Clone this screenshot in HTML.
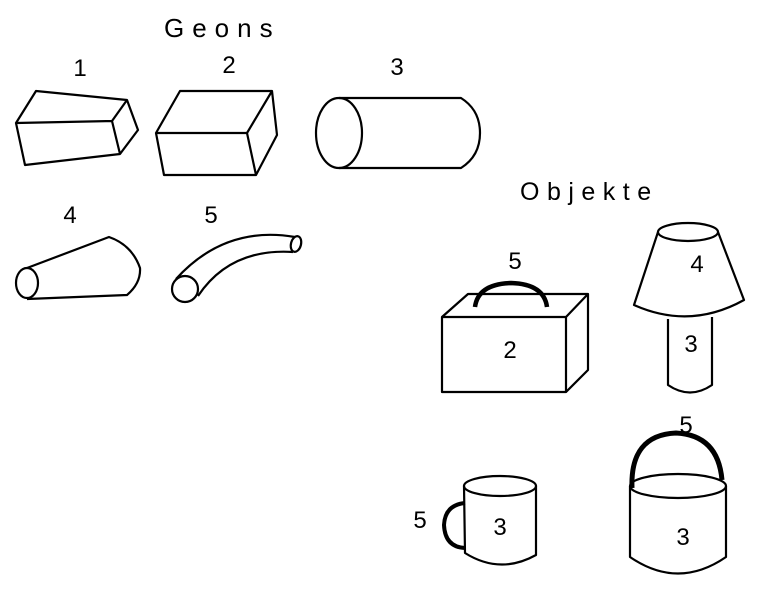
<!DOCTYPE html>
<html><head><style>
html,body{margin:0;padding:0;background:#fff}
svg{display:block}
text{font-family:"Liberation Sans",sans-serif;fill:#000}
</style></head><body>
<svg width="757" height="591" viewBox="0 0 757 591" xmlns="http://www.w3.org/2000/svg">
<g fill="none" stroke="#000" stroke-width="2.2" stroke-linejoin="round">
<!-- geon 1 -->
<path d="M36,91 L127,100 L138,130 L120,154 L25,165 L16,123 Z M16,123 L112,121 L120,154 M112,121 L127,100"/>
<!-- geon 2 -->
<path d="M180,91 L272,91 L277,135 L256,175 L164,175 L156,133 Z M156,133 L247,133 L256,175 M247,133 L272,91"/>
<!-- geon 3 -->
<ellipse cx="339" cy="133" rx="23" ry="35"/>
<path d="M339,98 L461,98 Q480,110 480,133 Q480,156 461,168 L339,168"/>
<!-- geon 4 -->
<ellipse cx="27" cy="283" rx="11" ry="15"/>
<path d="M27,268 L109,237 Q132,245 140,268 Q141,283 127,295 L27,299"/>
<!-- geon 5 -->
<circle cx="185" cy="289" r="13"/>
<path d="M176,279 Q225,225 295,237 M198,296 Q230,248 293,252"/>
<ellipse cx="296" cy="244" rx="5" ry="8" transform="rotate(15 296 244)"/>
<!-- suitcase -->
<path d="M442,317 L566,317 L566,392 L442,392 Z M442,317 L468,294 L588,294 L566,317 M588,294 L588,370 L566,392"/>
<path d="M475,307 Q478,284 511,283 Q544,284 547,307" stroke-width="4.5"/>
<!-- lamp -->
<ellipse cx="688" cy="232" rx="30" ry="9"/>
<path d="M658,232 L634,305 Q690,330 744,300 L718,232"/>
<path d="M668,319 L668,385 Q690,400 712,385 L712,317"/>
<!-- mug -->
<ellipse cx="500" cy="486" rx="36" ry="10"/>
<path d="M464,486 L465,553 Q500,575 536,555 L536,486"/>
<path d="M465,503 Q445,505 444,525 Q445,547 465,548" stroke-width="4"/>
<!-- bucket -->
<ellipse cx="678" cy="486" rx="48" ry="12"/>
<path d="M630,486 L630,557 Q678,590 726,557 L726,486"/>
<path d="M632,488 Q630,435 676,433 Q718,435 722,480" stroke-width="5"/>
</g>
<text x="164" y="37" font-size="26" letter-spacing="8">Geons</text>
<text x="520" y="200" font-size="25" letter-spacing="7.5">Objekte</text>
<g font-size="24" text-anchor="middle">
<text x="80" y="76">1</text>
<text x="229" y="73">2</text>
<text x="397" y="75">3</text>
<text x="70" y="223">4</text>
<text x="211" y="223">5</text>
<text x="515" y="269">5</text>
<text x="510" y="358">2</text>
<text x="697" y="272">4</text>
<text x="691" y="352">3</text>
<text x="420" y="528">5</text>
<text x="500" y="535">3</text>
<text x="686" y="433">5</text>
<text x="683" y="545">3</text>
</g>
</svg>
</body></html>
